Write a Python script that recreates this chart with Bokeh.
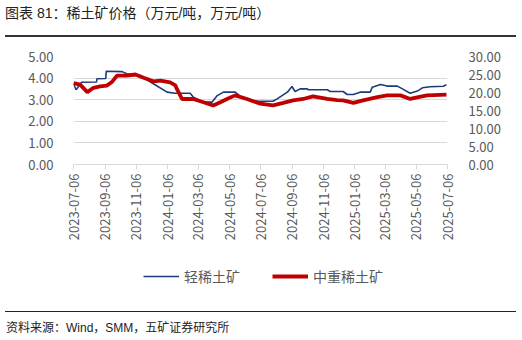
import pandas as pd
from bokeh.plotting import figure
from bokeh.models import (Range1d, LinearAxis, FixedTicker, NumeralTickFormatter,
                          DatetimeTickFormatter, Legend, LegendItem, Div, ColumnDataSource)
from bokeh.layouts import column
from bokeh.embed import file_html
from bokeh.resources import INLINE

title_text = "图表 81：稀土矿价格（万元/吨，万元/吨）"
source_text = "资料来源：Wind，SMM，五矿证券研究所"
series_names = ["轻稀土矿", "中重稀土矿"]

tick_labels = ["2023-07-06", "2023-09-06", "2023-11-06", "2024-01-06", "2024-03-06",
               "2024-05-06", "2024-07-06", "2024-09-06", "2024-11-06", "2025-01-06",
               "2025-03-06", "2025-05-06", "2025-07-06"]

light_dates = ["2023-07-06", "2023-07-11", "2023-07-22", "2023-08-20", "2023-08-21", "2023-09-07",
               "2023-09-08", "2023-10-09", "2023-10-18", "2023-11-13", "2023-12-09", "2024-01-05",
               "2024-01-20", "2024-02-19", "2024-02-25", "2024-03-16", "2024-04-02", "2024-04-12",
               "2024-04-24", "2024-05-17", "2024-06-02", "2024-06-29", "2024-07-30", "2024-08-07",
               "2024-08-27", "2024-09-05", "2024-09-11", "2024-09-21", "2024-10-05", "2024-10-07",
               "2024-11-13", "2024-11-19", "2024-12-14", "2024-12-22", "2025-01-03", "2025-01-16",
               "2025-02-05", "2025-02-09", "2025-02-25", "2025-03-10", "2025-03-30", "2025-04-09",
               "2025-04-24", "2025-05-08", "2025-05-18", "2025-06-02", "2025-06-28", "2025-07-04"]
light_values = [3.74, 3.46, 3.81, 3.82, 3.97, 3.98,
                4.32, 4.30, 4.20, 4.12, 3.74, 3.35,
                3.30, 3.30, 3.12, 2.89, 2.89, 3.19,
                3.35, 3.35, 3.04, 2.93, 2.93, 3.04,
                3.35, 3.61, 3.38, 3.50, 3.50, 3.46,
                3.46, 3.38, 3.38, 3.24, 3.24, 3.35,
                3.35, 3.58, 3.70, 3.63, 3.63, 3.50,
                3.30, 3.40, 3.55, 3.60, 3.62, 3.70]

heavy_dates = ["2023-07-06", "2023-07-19", "2023-08-02", "2023-08-14", "2023-08-27", "2023-09-09",
               "2023-09-19", "2023-09-29", "2023-10-18", "2023-11-04", "2023-11-20", "2023-12-09",
               "2023-12-23", "2024-01-11", "2024-01-21", "2024-01-24", "2024-02-03", "2024-02-25",
               "2024-03-16", "2024-04-04", "2024-04-18", "2024-05-01", "2024-05-17", "2024-06-09",
               "2024-07-05", "2024-07-30", "2024-08-19", "2024-09-07", "2024-09-27", "2024-10-16",
               "2024-11-13", "2024-12-02", "2024-12-14", "2025-01-03", "2025-01-22", "2025-02-19",
               "2025-03-10", "2025-04-05", "2025-04-24", "2025-05-10", "2025-05-27", "2025-07-04"]
heavy_values = [22.6, 22.2, 20.1, 21.3, 21.7, 21.9,
                22.9, 24.7, 24.7, 25.0, 24.1, 23.1,
                23.3, 22.8, 22.0, 21.0, 18.2, 18.2,
                17.3, 16.4, 17.3, 18.2, 19.2, 18.2,
                16.9, 16.4, 17.1, 17.8, 18.2, 18.9,
                18.2, 17.9, 17.8, 17.1, 17.8, 18.7,
                19.2, 19.2, 18.2, 18.7, 19.2, 19.4]

FONT = "Noto Sans CJK SC"
GRAY = "#595959"
BLUE = "#1F3A78"
RED = "#C00000"

light_src = ColumnDataSource(dict(x=pd.to_datetime(light_dates), y=light_values))
heavy_src = ColumnDataSource(dict(x=pd.to_datetime(heavy_dates), y=heavy_values))
ticks = [pd.Timestamp(t).value // 10**6 for t in tick_labels]

p = figure(frame_width=374, frame_height=108, x_axis_type="datetime", output_backend="svg",
           toolbar_location=None,
           x_range=Range1d(pd.Timestamp(tick_labels[0]), pd.Timestamp(tick_labels[-1])),
           y_range=Range1d(0, 5),
           min_border_left=73, min_border_right=75, min_border_top=18, min_border_bottom=90)
p.margin = 0
p.outline_line_color = None
p.extra_y_ranges = {"right": Range1d(0, 30)}

r1 = p.line("x", "y", source=light_src, line_color=BLUE, line_width=1.6)
r2 = p.line("x", "y", source=heavy_src, y_range_name="right", line_color=RED, line_width=3.8)

p.xgrid.grid_line_color = None
p.ygrid.grid_line_color = "#D9D9D9"
p.ygrid.ticker = FixedTicker(ticks=[0, 1, 2, 3, 4, 5])

xa = p.xaxis[0]
xa.ticker = FixedTicker(ticks=ticks)
fmt = "%Y-%m-%d"
xa.formatter = DatetimeTickFormatter(milliseconds=fmt, seconds=fmt, minsec=fmt, minutes=fmt,
                                     hourmin=fmt, hours=fmt, days=fmt, months=fmt, years=fmt)
xa.major_label_orientation = 1.5708
xa.axis_line_color = "#D9D9D9"
xa.major_tick_line_color = "#D9D9D9"
xa.major_tick_out = 5
xa.major_tick_in = 0
xa.minor_tick_line_color = None
xa.major_label_text_font = FONT
xa.major_label_text_font_size = "13px"
xa.major_label_text_color = GRAY
xa.major_label_standoff = 4

ya = p.yaxis[0]
ya.ticker = FixedTicker(ticks=[0, 1, 2, 3, 4, 5])
ya.formatter = NumeralTickFormatter(format="0.00")
ya.axis_line_color = None
ya.major_tick_line_color = None
ya.minor_tick_line_color = None
ya.major_label_text_font = FONT
ya.major_label_text_font_size = "13px"
ya.major_label_text_color = GRAY
ya.major_label_standoff = 14

yr = LinearAxis(y_range_name="right", ticker=FixedTicker(ticks=[0, 5, 10, 15, 20, 25, 30]),
                formatter=NumeralTickFormatter(format="0.00"))
yr.axis_line_color = None
yr.major_tick_line_color = None
yr.minor_tick_line_color = None
yr.major_label_text_font = FONT
yr.major_label_text_font_size = "13px"
yr.major_label_text_color = GRAY
yr.major_label_standoff = 15
p.add_layout(yr, "right")

# legend strip (separate small figure; its hidden renderers only carry the styles)
lg = figure(width=522, height=46, output_backend="svg", toolbar_location=None,
            x_range=Range1d(0, 1), y_range=Range1d(0, 1),
            x_axis_location=None, y_axis_location=None,
            min_border_left=0, min_border_right=0, min_border_top=0, min_border_bottom=0)
lg.margin = 0
lg.outline_line_color = None
lg.xgrid.grid_line_color = None
lg.ygrid.grid_line_color = None
k1 = lg.line("x", "y", source=light_src, line_color=BLUE, line_width=1.6, visible=False)
k2 = lg.line("x", "y", source=heavy_src, line_color=RED, line_width=3.8, visible=False)
legend = Legend(items=[LegendItem(label=series_names[0], renderers=[k1]),
                       LegendItem(label=series_names[1], renderers=[k2])],
                orientation="horizontal", location=(70, 14),
                glyph_width=36, glyph_height=18, label_standoff=5, spacing=32,
                label_text_font=FONT, label_text_font_size="14px", label_text_color=GRAY,
                border_line_color=None, background_fill_alpha=0, margin=0, padding=0)
lg.add_layout(legend, "center")

title_div = Div(width=522, height=38, margin=0, text=(
    '<div style="position:relative;width:522px;height:38px;font-family:\'Liberation Sans\',\'Noto Sans CJK SC\';">'
    '<div style="position:absolute;left:5px;top:4px;font-size:14px;line-height:18px;color:#222;white-space:nowrap;">'
    + title_text +
    '</div><div style="position:absolute;left:5px;top:35px;width:511px;height:2px;background:#333;"></div></div>'))

src_div = Div(width=522, height=40, margin=0, text=(
    '<div style="position:relative;width:522px;height:40px;font-family:\'Liberation Sans\',\'Noto Sans CJK SC\';">'
    '<div style="position:absolute;left:5px;top:11px;width:511px;height:1px;background:#222;"></div>'
    '<div style="position:absolute;left:6px;top:20px;font-size:12px;line-height:16px;color:#222;white-space:nowrap;">'
    + source_text + '</div></div>'))

layout = column(title_div, p, lg, src_div, spacing=0, margin=0)
open("out.html", "w").write(file_html(layout, INLINE))
